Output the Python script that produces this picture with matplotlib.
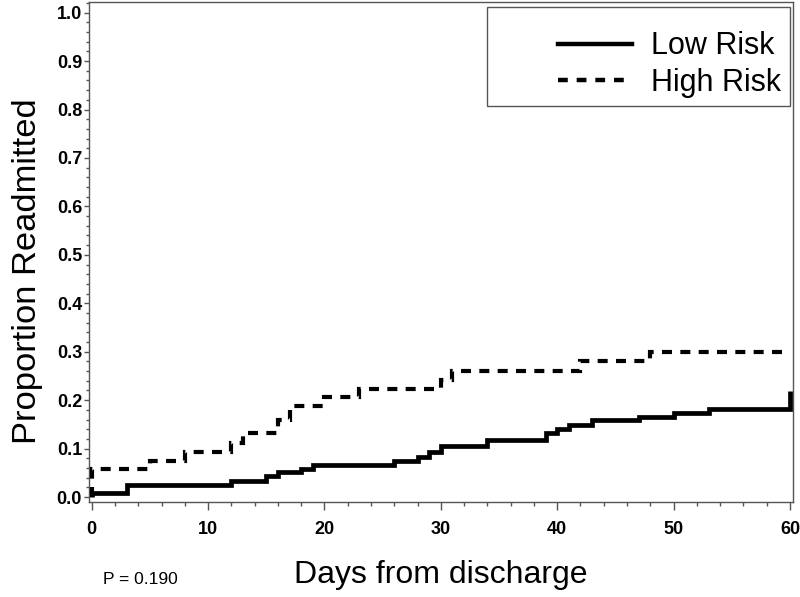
import matplotlib
matplotlib.use("Agg")
import matplotlib.pyplot as plt
from matplotlib.lines import Line2D
from matplotlib.patches import Rectangle
from matplotlib.ticker import MultipleLocator

# ---- data ----
low_days = [0, 0, 3, 12, 15, 16, 18, 19, 26, 28, 29, 30, 34, 39, 40, 41, 43, 47, 50, 53, 60, 60]
low_prop = [0.0, 0.009, 0.024, 0.034, 0.043, 0.052, 0.058, 0.066, 0.074, 0.083, 0.092, 0.106,
            0.118, 0.132, 0.140, 0.149, 0.159, 0.166, 0.174, 0.182, 0.182, 0.218]

high_days = [0, 0, 5, 8, 12, 13, 16, 17, 20, 23, 30, 31, 42, 48, 60]
high_prop = [0.0, 0.057, 0.075, 0.094, 0.112, 0.132, 0.160, 0.187, 0.206, 0.224, 0.242,
             0.261, 0.281, 0.299, 0.299]

series_labels = ["Low Risk", "High Risk"]
x_ticks = [0, 10, 20, 30, 40, 50, 60]
y_ticks = [0.0, 0.1, 0.2, 0.3, 0.4, 0.5, 0.6, 0.7, 0.8, 0.9, 1.0]
p_text = "P = 0.190"

SANS = ["Liberation Sans", "DejaVu Sans"]
NARROW = ["Liberation Sans Narrow", "Liberation Sans", "DejaVu Sans"]
plt.rcParams["font.family"] = SANS

fig = plt.figure(figsize=(8.0, 5.97), dpi=100)
ax = fig.add_axes([0.11125, 0.1591, 0.88, 0.8375])

spine_col = "#555555"

ax.step(low_days, low_prop, where="post", color="black", lw=3.4,
        solid_joinstyle="miter", solid_capstyle="butt", zorder=3)
ax.step(high_days, high_prop, where="post", color="black", lw=3.0,
        dashes=(2.4, 2.0), dash_capstyle="butt", dash_joinstyle="miter", zorder=3)

ax.set_xlim(-0.232, 60.26)
ax.set_ylim(-0.0103, 1.022)

ax.set_xticks(x_ticks)
ax.set_xticklabels([str(v) for v in x_ticks])
ax.set_yticks(y_ticks)
ax.set_yticklabels([f"{v:.1f}" for v in y_ticks])
ax.xaxis.set_minor_locator(MultipleLocator(2))
ax.yaxis.set_minor_locator(MultipleLocator(0.02))

for s in ax.spines.values():
    s.set_color(spine_col)
    s.set_linewidth(1.0)

ax.tick_params(axis="x", which="major", direction="out", length=6, width=1,
               color=spine_col, pad=7.5)
ax.tick_params(axis="x", which="minor", direction="out", length=3, width=1,
               color=spine_col)
ax.tick_params(axis="y", which="major", direction="out", length=3.5, width=1,
               color=spine_col, pad=1.5)
ax.tick_params(axis="y", which="minor", direction="out", length=2.5, width=1,
               color=spine_col)
for lab in ax.get_xticklabels() + ax.get_yticklabels():
    lab.set_fontfamily(SANS)
    lab.set_fontweight("bold")
    lab.set_fontsize(13)

ax.set_xlabel("Days from discharge", fontsize=23)
ax.xaxis.set_label_coords(0.5, -0.116)
ax.xaxis.label.set_va("top")
ax.set_ylabel("Proportion Readmitted", fontsize=24.8)
ax.yaxis.set_label_coords(-0.066, 0.462)

# legend frame and entries
ax.add_patch(Rectangle((0.5653, 0.792), 0.4304, 0.198, transform=ax.transAxes,
                       fill=False, edgecolor=spine_col, lw=1.0, zorder=4))
handles = [Line2D([], [], color="black", lw=3.2),
           Line2D([], [], color="black", lw=3.2, dashes=(2.2, 2.0), dash_capstyle="butt")]
leg = ax.legend(handles, series_labels, loc="upper right",
                bbox_to_anchor=(1.013, 0.984), frameon=False, fontsize=22,
                handlelength=2.45, handletextpad=0.6, labelspacing=0.2,
                borderpad=0.2)

fig.text(0.129, 0.022, p_text, fontsize=12.5, family=NARROW, va="baseline")

fig.savefig("out.png", dpi=100)
